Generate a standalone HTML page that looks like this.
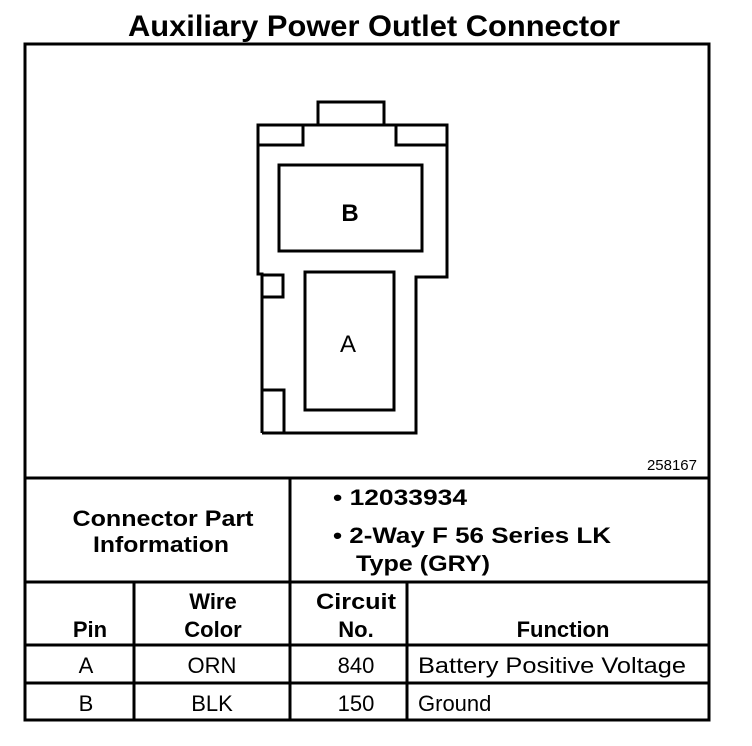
<!DOCTYPE html>
<html><head><style>body{margin:0;background:#fff}svg{display:block}</style></head><body>
<svg width="752" height="746" viewBox="0 0 752 746" xmlns="http://www.w3.org/2000/svg" font-family="Liberation Sans, Arial, sans-serif">
<rect width="752" height="746" fill="#fff"/>
<text x="374" y="36" font-size="30" font-weight="bold" text-anchor="middle" textLength="492" lengthAdjust="spacingAndGlyphs">Auxiliary Power Outlet Connector</text>
<g fill="none" stroke="#000" stroke-width="3">
<rect x="25" y="44" width="684" height="676"/>
<line x1="25" y1="478" x2="709" y2="478"/>
<line x1="25" y1="582" x2="709" y2="582"/>
<line x1="25" y1="645" x2="709" y2="645"/>
<line x1="25" y1="683" x2="709" y2="683"/>
<line x1="290" y1="478" x2="290" y2="720"/>
<line x1="134" y1="582" x2="134" y2="720"/>
<line x1="407" y1="582" x2="407" y2="720"/>
<polyline points="318,125 318,102 384,102 384,125"/>
<polyline points="262,433 262,274 258,274 258,125 447,125 447,277 416,277 416,433 262,433"/>
<rect x="258" y="125" width="45" height="20"/>
<rect x="396" y="125" width="51" height="20"/>
<rect x="279" y="165" width="143" height="86"/>
<rect x="305" y="272" width="89" height="138"/>
<rect x="262" y="275" width="21" height="22"/>
<polyline points="262,390 284,390 284,433"/>
</g>
<text x="350" y="221" font-size="24" font-weight="bold" text-anchor="middle">B</text>
<text x="348" y="352" font-size="24" text-anchor="middle">A</text>
<text x="697" y="470" font-size="15" text-anchor="end">258167</text>
<g font-size="22" font-weight="bold">
<text x="163" y="526" text-anchor="middle" textLength="181" lengthAdjust="spacingAndGlyphs">Connector Part</text>
<text x="161" y="552" text-anchor="middle" textLength="136" lengthAdjust="spacingAndGlyphs">Information</text>
<text x="333" y="505" textLength="134" lengthAdjust="spacingAndGlyphs">• 12033934</text>
<text x="333" y="543" textLength="278" lengthAdjust="spacingAndGlyphs">• 2-Way F 56 Series LK</text>
<text x="356" y="571" textLength="134" lengthAdjust="spacingAndGlyphs">Type (GRY)</text>
<text x="90" y="637" text-anchor="middle">Pin</text>
<text x="213" y="609" text-anchor="middle">Wire</text>
<text x="213" y="637" text-anchor="middle">Color</text>
<text x="356" y="609" text-anchor="middle" textLength="80" lengthAdjust="spacingAndGlyphs">Circuit</text>
<text x="356" y="637" text-anchor="middle">No.</text>
<text x="563" y="637" text-anchor="middle">Function</text>
</g>
<g font-size="22">
<text x="86" y="673" text-anchor="middle">A</text>
<text x="212" y="673" text-anchor="middle">ORN</text>
<text x="356" y="673" text-anchor="middle">840</text>
<text x="418" y="673" textLength="268" lengthAdjust="spacingAndGlyphs">Battery Positive Voltage</text>
<text x="86" y="711" text-anchor="middle">B</text>
<text x="212" y="711" text-anchor="middle">BLK</text>
<text x="356" y="711" text-anchor="middle">150</text>
<text x="418" y="711">Ground</text>
</g>
</svg>
</body></html>
